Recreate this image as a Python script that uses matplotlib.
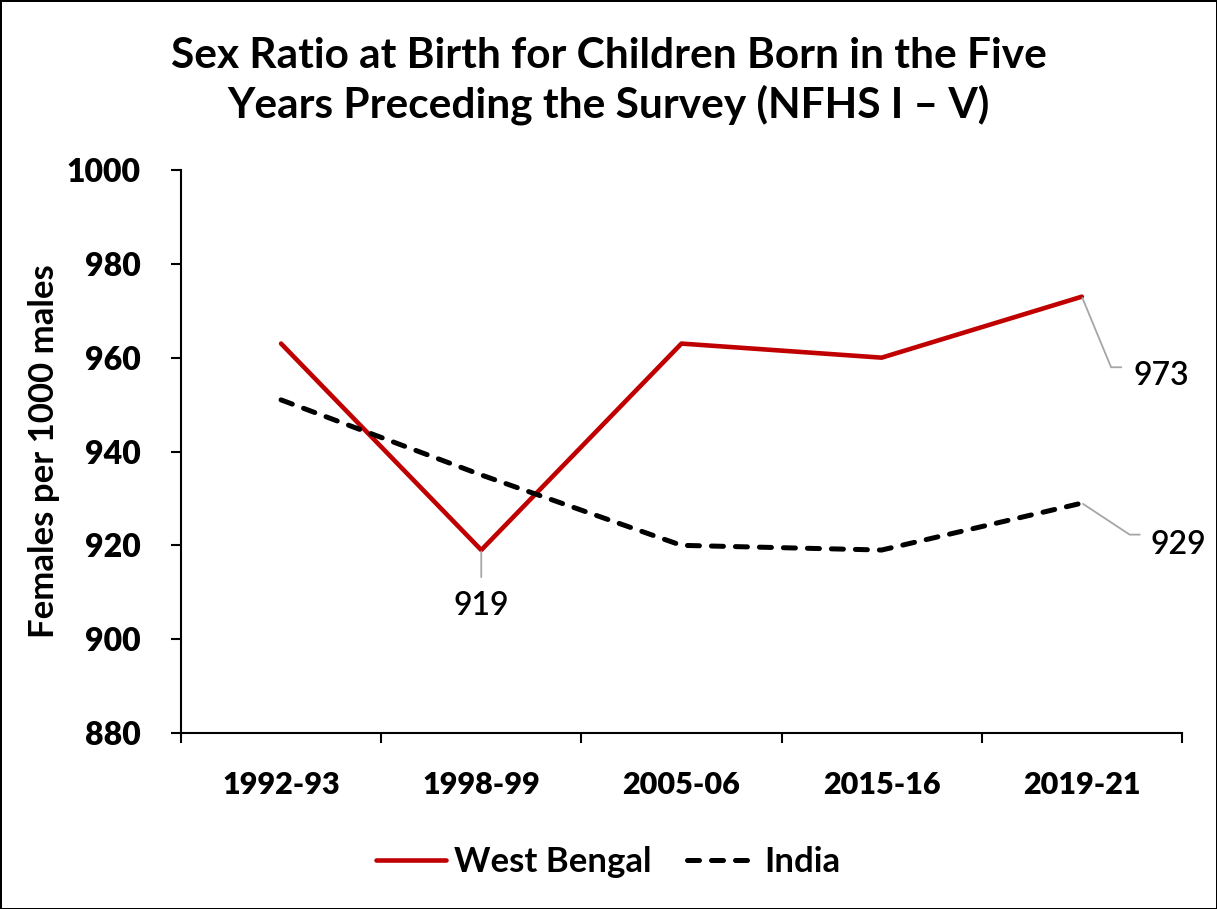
import matplotlib.pyplot as plt

# NFHS rounds and sex ratio at birth (females per 1000 males)
rounds = ['1992-93', '1998-99', '2005-06', '2015-16', '2019-21']
west_bengal = [963, 919, 963, 960, 973]
india = [951, 935, 920, 919, 929]
y_ticks = [880, 900, 920, 940, 960, 980, 1000]

plt.rcParams['font.family'] = ['Lato', 'DejaVu Sans']

fig = plt.figure(figsize=(12.17, 9.09), dpi=100)
fig.patch.set_edgecolor('black')
fig.patch.set_linewidth(2)
ax = fig.add_axes([0.1487, 0.1936, 0.8225, 0.6194])

x = list(range(len(rounds)))
ax.plot(x, west_bengal, color='#C00000', lw=3.3, label='West Bengal',
        solid_capstyle='round', solid_joinstyle='round')
ax.plot(x, india, color='black', lw=3.6, linestyle=(0, (2.4, 2.4)),
        dash_capstyle='round', label='India')

ax.set_xlim(-0.5, len(rounds) - 0.5)
ax.set_ylim(880, 1000)
ax.set_yticks(y_ticks)
ax.set_yticklabels([str(v) for v in y_ticks], fontsize=23, fontweight='heavy')
ax.set_xticks(x)
ax.set_xticklabels(rounds, fontsize=22, fontweight='heavy')
ax.set_xticks([i - 0.5 for i in range(len(rounds) + 1)], minor=True)
ax.tick_params(axis='x', which='major', length=0, pad=27)
ax.tick_params(axis='x', which='minor', length=7, width=1.5, direction='out')
ax.tick_params(axis='y', length=7, width=1.5, pad=22)

for side in ['top', 'right']:
    ax.spines[side].set_visible(False)
for side in ['left', 'bottom']:
    ax.spines[side].set_linewidth(1.5)

ax.set_ylabel('Females per 1000 males', fontsize=25, fontweight='bold')
ax.yaxis.set_label_coords(-0.121, 0.5)

fig.text(0.5, 0.911, 'Sex Ratio at Birth for Children Born in the Five\n'
         'Years Preceding the Survey (NFHS I \u2013 V)',
         ha='center', va='center', fontsize=30.5, fontweight='bold',
         linespacing=1.3)

# data labels with leader lines
leader = dict(arrowstyle='-', color='#a6a6a6', lw=1.3)
ax.annotate(str(west_bengal[1]), xy=(1, west_bengal[1]), xytext=(0, -56),
            textcoords='offset pixels', ha='center', va='center',
            fontsize=23, fontweight='semibold',
            arrowprops=dict(leader, relpos=(0.5, 1.0), shrinkA=8, shrinkB=1))
ax.annotate(str(west_bengal[4]), xy=(4, west_bengal[4]), xytext=(52, -79),
            textcoords='offset pixels', ha='left', va='center',
            fontsize=23, fontweight='semibold',
            arrowprops=dict(leader, relpos=(0.0, 0.78), shrinkA=7, shrinkB=1,
                            connectionstyle='angle,angleA=0,angleB=112.5'))
ax.annotate(str(india[4]), xy=(4, india[4]), xytext=(69, -42),
            textcoords='offset pixels', ha='left', va='center',
            fontsize=23, fontweight='semibold',
            arrowprops=dict(leader, relpos=(0.0, 0.85), shrinkA=6, shrinkB=1,
                            connectionstyle='angle,angleA=0,angleB=146.6'))

fig.legend(loc='center', bbox_to_anchor=(0.5, 0.052), ncol=2, frameon=False,
           prop=dict(size=25, weight='bold'), handlelength=2.0,
           columnspacing=1.0, handletextpad=0.25)

fig.savefig('out.png', dpi=100)
